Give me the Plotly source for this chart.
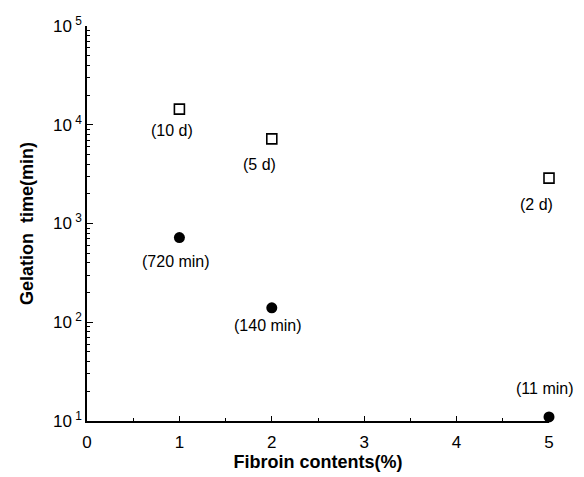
import numpy as np
import plotly.graph_objects as go

# Data
fibroin = [1, 2, 5]
time_circle = [720, 140, 11]          # filled circles (min)
time_square = [14400, 7200, 2880]     # open squares (min)
labels_circle = ["(720 min)", "(140 min)", "(11 min)"]
labels_square = ["(10 d)", "(5 d)", "(2 d)"]
x_ticks = [0, 1, 2, 3, 4, 5]
y_tick_exps = [1, 2, 3, 4, 5]

# Label offsets (style)
sq_shift = [(-7, -21), (-12, -26), (-13, -26)]
ci_shift = [(-3, -24), (-4, -18), (-4, 28)]

FONT = "Liberation Sans, Arial, Helvetica, sans-serif"

fig = go.Figure()
fig.add_trace(go.Scatter(
    x=fibroin, y=time_square, mode="markers",
    marker=dict(symbol="square-open", size=10, color="black", line=dict(width=1.6, color="black")),
    cliponaxis=False, showlegend=False))
fig.add_trace(go.Scatter(
    x=fibroin, y=time_circle, mode="markers",
    marker=dict(symbol="circle", size=11, color="black"),
    cliponaxis=False, showlegend=False))

for xv, yv, t, (dx, dy) in zip(fibroin, time_square, labels_square, sq_shift):
    fig.add_annotation(x=xv, y=np.log10(yv), text=t, showarrow=False,
                       xshift=dx, yshift=dy, font=dict(family=FONT, size=16, color="black"))
for xv, yv, t, (dx, dy) in zip(fibroin, time_circle, labels_circle, ci_shift):
    fig.add_annotation(x=xv, y=np.log10(yv), text=t, showarrow=False,
                       xshift=dx, yshift=dy, font=dict(family=FONT, size=16, color="black"))

fig.update_layout(
    width=584, height=477,
    margin=dict(l=87, r=35, t=26, b=53),
    paper_bgcolor="white", plot_bgcolor="white",
    font=dict(family=FONT, color="black"),
)
fig.update_xaxes(
    range=[0, 5], tickvals=x_ticks, ticktext=[str(v) for v in x_ticks],
    ticks="inside", ticklen=5, tickwidth=1.3, tickcolor="black",
    minor=dict(dtick=0.5, ticks="inside", ticklen=3, tickwidth=1, tickcolor="black"),
    showline=True, linecolor="black", linewidth=1.6, showgrid=False, zeroline=False,
    tickfont=dict(size=17, family=FONT), ticklabelstandoff=5,
    title=dict(text="<b>Fibroin contents(%)</b>", font=dict(size=18, family=FONT), standoff=0),
)
fig.update_yaxes(
    type="log", range=[1, 5],
    tickvals=[10 ** e for e in y_tick_exps],
    ticktext=["10<sup> %d</sup>" % e for e in y_tick_exps],
    ticks="inside", ticklen=6, tickwidth=1.3, tickcolor="black",
    minor=dict(dtick="D1", ticks="inside", ticklen=3, tickwidth=1, tickcolor="black", showgrid=False),
    showline=True, linecolor="black", linewidth=1.6, showgrid=False, zeroline=False,
    tickfont=dict(size=17, family=FONT),
    title=dict(text="<b>Gelation  time(min)</b>", font=dict(size=18, family=FONT), standoff=15),
)

fig.write_html("out.html")
